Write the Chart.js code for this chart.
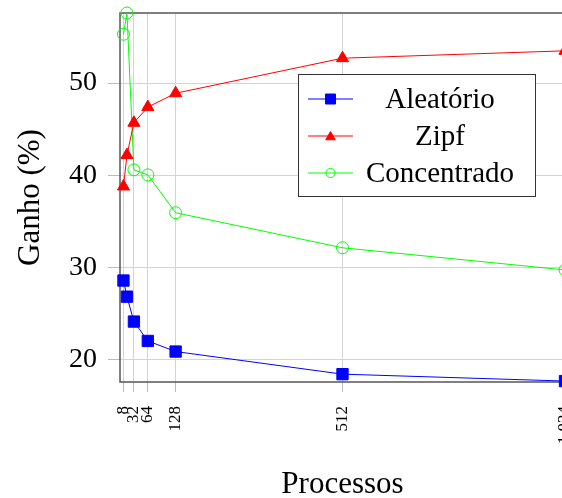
<!DOCTYPE html>
<html>
<head>
<meta charset="utf-8">
<script src="https://cdn.jsdelivr.net/npm/chart.js@4.4.0/dist/chart.umd.min.js"></script>
<style>
  html, body { margin: 0; padding: 0; background: #fff; overflow: hidden; }
  #wrap { width: 562px; height: 498px; overflow: hidden; }
</style>
</head>
<body>
<div id="wrap"><canvas id="myChart" width="575" height="498"></canvas></div>
<script>
// dados
const processos = [8, 16, 32, 64, 128, 512, 1024];
const aleatorio = [28.6, 26.85, 24.15, 22.05, 20.9, 18.45, 17.7];
const zipf = [38.8, 42.2, 45.7, 47.4, 48.9, 52.7, 53.5];
const concentrado = [55.3, 57.6, 40.6, 40.05, 35.95, 32.15, 29.75];

const xTicks = [8, 32, 64, 128, 512, 1024];
const xTickLabels = ['8', '32', '64', '128', '512', '1,024'];
const yTicks = [20, 30, 40, 50];

const serif = "'Liberation Serif', 'Times New Roman', serif";

function pares(vals) {
    return processos.map((p, i) => ({x: p, y: vals[i]}))
}

function marcador(ctx, estilo, x, y, r, cor, preenchido) {
    ctx.save()
    ctx.strokeStyle = cor
    ctx.fillStyle = cor
    ctx.lineWidth = 1
    ctx.beginPath()
    if (estilo === 'rect') {
        ctx.rect(x - r, y - r, 2 * r, 2 * r)
    } else if (estilo === 'triangle') {
        ctx.moveTo(x, y - r)
        ctx.lineTo(x + r * 0.866, y + r * 0.5)
        ctx.lineTo(x - r * 0.866, y + r * 0.5)
        ctx.closePath()
    } else {
        ctx.arc(x, y, r, 0, Math.PI * 2)
    }
    if (preenchido) ctx.fill()
    ctx.stroke()
    ctx.restore()
}

// moldura e legenda desenhadas a mao
const moldura = {
    id: 'moldura',
    beforeDatasetsDraw(chart) {
        const {ctx, chartArea} = chart
        ctx.save()
        ctx.strokeStyle = '#555'
        ctx.lineWidth = 1.5
        ctx.strokeRect(chartArea.left, chartArea.top, chartArea.right - chartArea.left, chartArea.bottom - chartArea.top)
        ctx.restore()
    },
    afterDraw(chart) {
        const ctx = chart.ctx
        const bx = 298.5, by = 74.5, bw = 237, bh = 122
        ctx.save()
        ctx.fillStyle = '#fff'
        ctx.fillRect(bx, by, bw, bh)
        ctx.strokeStyle = '#333'
        ctx.lineWidth = 1
        ctx.strokeRect(bx, by, bw, bh)
        const linhas = [99, 136, 173]
        const tam = [5, 5.5, 4.5]
        chart.data.datasets.forEach((ds, i) => {
            const y = linhas[i]
            ctx.strokeStyle = ds.borderColor
            ctx.lineWidth = 1
            ctx.beginPath()
            ctx.moveTo(308, y)
            ctx.lineTo(353, y)
            ctx.stroke()
            marcador(ctx, ds.pointStyle, 330.5, y + (ds.pointStyle === 'triangle' ? 1 : 0), tam[i], ds.borderColor, ds.pointStyle !== 'circle')
            ctx.fillStyle = '#000'
            ctx.font = '29px ' + serif
            ctx.textAlign = 'center'
            ctx.textBaseline = 'middle'
            ctx.fillText(ds.label, 440, y + 1)
        })
        ctx.restore()
    }
}

const ctx = document.getElementById('myChart');
new Chart(ctx, {
    type: 'line',
    data: {
        datasets: [{
            label: 'Aleatório',
            data: pares(aleatorio),
            borderColor: '#0000ff',
            backgroundColor: '#0000ff',
            borderWidth: 1,
            pointStyle: 'rect',
            pointRadius: 8,
            pointBorderWidth: 1,
            clip: false
        }, {
            label: 'Zipf',
            data: pares(zipf),
            borderColor: '#ff0000',
            backgroundColor: '#ff0000',
            borderWidth: 1,
            pointStyle: 'triangle',
            pointRadius: 7,
            pointBorderWidth: 1,
            clip: false
        }, {
            label: 'Concentrado',
            data: pares(concentrado),
            borderColor: '#00ff00',
            backgroundColor: 'rgba(0,0,0,0)',
            borderWidth: 1,
            pointStyle: 'circle',
            pointRadius: 6,
            pointBorderWidth: 1,
            clip: false
        }]
    },
    options: {
        responsive: false,
        animation: false,
        layout: { padding: { left: 0, top: 13, right: 10, bottom: 0 } },
        plugins: {
            legend: { display: false },
            tooltip: { enabled: false }
        },
        scales: {
            x: {
                type: 'linear',
                min: 0,
                max: 1024,
                afterBuildTicks(s) { s.ticks = xTicks.map(v => ({value: v})) },
                afterFit(s) { s.height = 116; s.paddingLeft = 0; s.paddingRight = 0 },
                border: { display: false },
                grid: { color: '#d4d4d4', tickColor: '#bbb', tickLength: 10, lineWidth: 1 },
                ticks: {
                    autoSkip: false,
                    minRotation: 90,
                    maxRotation: 90,
                    padding: 14,
                    color: '#000',
                    font: { family: serif, size: 17 },
                    callback: (v, i) => xTickLabels[i]
                },
                title: {
                    display: true,
                    text: 'Processos',
                    color: '#000',
                    font: { family: serif, size: 31, lineHeight: 0.85 },
                    padding: { top: 0, bottom: 0 }
                }
            },
            y: {
                min: 17.6,
                max: 57.6,
                afterBuildTicks(s) { s.ticks = yTicks.map(v => ({value: v})) },
                afterFit(s) { s.width = 120; s.paddingTop = 0; s.paddingBottom = 0 },
                border: { display: false },
                grid: { color: '#d4d4d4', tickColor: '#bbb', tickLength: 12, lineWidth: 1 },
                ticks: {
                    padding: 11,
                    color: '#000',
                    font: { family: serif, size: 28 }
                },
                title: {
                    display: true,
                    text: 'Ganho (%)',
                    color: '#000',
                    font: { family: serif, size: 31, lineHeight: 1.2 },
                    padding: { top: 12, bottom: 0 }
                }
            }
        }
    },
    plugins: [moldura]
});
</script>
</body>
</html>
